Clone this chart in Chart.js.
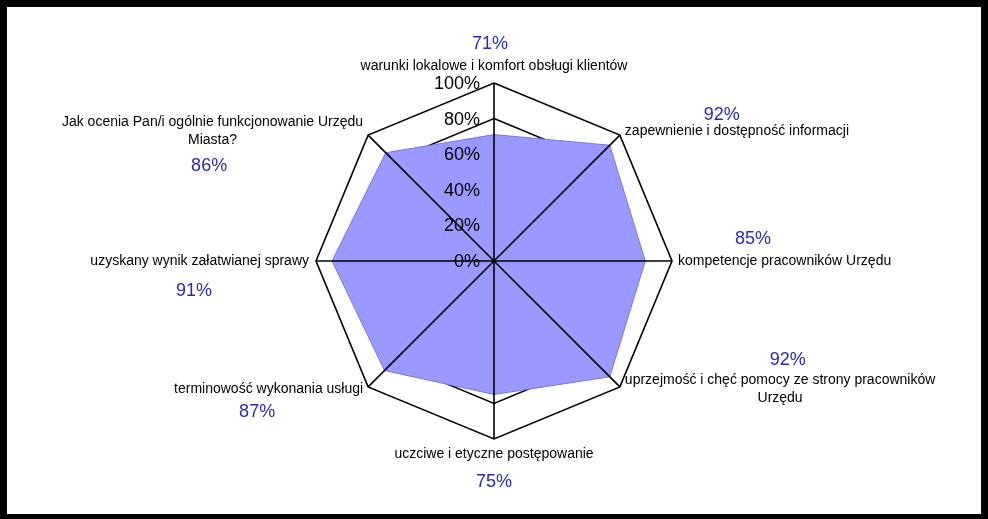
<!DOCTYPE html>
<html>
<head>
<meta charset="utf-8">
<script src="https://cdn.jsdelivr.net/npm/chart.js@4/dist/chart.umd.min.js"></script>
<style>
  html, body { margin: 0; padding: 0; background: #000; }
  #wrap { position: absolute; left: 0; top: 0; width: 988px; height: 519px; }
</style>
</head>
<body>
<div id="wrap"><canvas id="c" width="988" height="519"></canvas></div>
<script>
// ---- data ----
const categories = [
  "warunki lokalowe i komfort obsługi klientów",
  "zapewnienie i dostępność informacji",
  "kompetencje pracowników Urzędu",
  ["uprzejmość i chęć pomocy ze strony pracowników", "Urzędu"],
  "uczciwe i etyczne postępowanie",
  "terminowość wykonania usługi",
  "uzyskany wynik załatwianej sprawy",
  ["Jak ocenia Pan/i ogólnie funkcjonowanie Urzędu", "Miasta?"]
];
const values = [71, 92, 85, 92, 75, 87, 91, 86];
const tickValues = [0, 20, 40, 60, 80, 100];
const tickLabels = ["0%", "20%", "40%", "60%", "80%", "100%"];

// ---- layout (offsets from each axis end point) ----
const labelPlace = [
  { dx: 0,  dy: -17, align: "center" },
  { dx: 5,  dy: -4,  align: "left" },
  { dx: 6,  dy: 0,   align: "left" },
  { dx: 5,  dy: -7,  align: "left" },
  { dx: 0,  dy: 15,  align: "center" },
  { dx: -5, dy: 2,   align: "right" },
  { dx: -7, dy: 0,   align: "right" },
  { dx: -5, dy: -13, align: "right" }
];
const valuePlace = [
  { dx: -4,   dy: -39 },
  { dx: 102,  dy: -20 },
  { dx: 81,   dy: -22 },
  { dx: 168,  dy: -27 },
  { dx: 0,    dy: 43 },
  { dx: -111, dy: 25 },
  { dx: -122, dy: 30 },
  { dx: -159, dy: 31 }
];

const FONT = "'Liberation Sans', Arial, sans-serif";

const framePlugin = {
  id: "frame",
  beforeDraw(chart) {
    const ctx = chart.ctx;
    ctx.save();
    ctx.fillStyle = "#000";
    ctx.fillRect(0, 0, chart.width, chart.height);
    ctx.fillStyle = "#fff";
    ctx.fillRect(7, 7, 974, 507);
    ctx.restore();
  }
};

const overlayPlugin = {
  id: "overlay",
  afterDatasetsDraw(chart) {
    const ctx = chart.ctx;
    const s = chart.scales.r;
    const n = chart.data.labels.length;
    ctx.save();
    // spokes on top of the fill
    ctx.strokeStyle = "#000";
    ctx.lineWidth = 1.6;
    for (let i = 0; i < n; i++) {
      const p = s.getPointPosition(i, s.drawingArea);
      ctx.beginPath();
      ctx.moveTo(s.xCenter, s.yCenter);
      ctx.lineTo(p.x, p.y);
      ctx.stroke();
    }
    // tick labels
    ctx.fillStyle = "#000";
    ctx.font = "18px " + FONT;
    ctx.textAlign = "right";
    ctx.textBaseline = "middle";
    s.ticks.forEach(t => {
      const d = s.getDistanceFromCenterForValue(t.value);
      ctx.fillText(t.label, s.xCenter - 14, s.yCenter - d + 1);
    });
    // category labels
    ctx.font = "14px " + FONT;
    ctx.textBaseline = "middle";
    chart.data.labels.forEach((lab, i) => {
      const p = s.getPointPosition(i, s.drawingArea);
      const lines = Array.isArray(lab) ? lab : [lab];
      const w = Math.max(...lines.map(l => ctx.measureText(l).width));
      const pl = labelPlace[i];
      const ax = p.x + pl.dx;
      let cx;
      if (pl.align === "left") cx = ax + w / 2;
      else if (pl.align === "right") cx = ax - w / 2;
      else cx = ax;
      ctx.textAlign = "center";
      lines.forEach((l, k) => ctx.fillText(l, cx, p.y + pl.dy + k * 18));
    });
    // value labels
    ctx.font = "18px " + FONT;
    ctx.fillStyle = "#2a2ab4";
    ctx.textAlign = "center";
    chart.data.datasets[0].data.forEach((v, i) => {
      const p = s.getPointPosition(i, s.drawingArea);
      const vp = valuePlace[i];
      ctx.fillText(v + "%", p.x + vp.dx, p.y + vp.dy);
    });
    ctx.restore();
  }
};

new Chart(document.getElementById("c"), {
  type: "radar",
  data: {
    labels: categories,
    datasets: [{
      data: values,
      fill: true,
      backgroundColor: "#9999ff",
      borderColor: "#7777dd",
      borderWidth: 1,
      pointRadius: 0,
      pointHoverRadius: 0
    }]
  },
  options: {
    responsive: false,
    animation: false,
    layout: { padding: { top: 83, bottom: 80, left: 0, right: 0 } },
    plugins: { legend: { display: false }, tooltip: { enabled: false } },
    scales: {
      r: {
        min: 0,
        max: 100,
        ticks: {
          display: false,
          stepSize: 20,
          callback: (v) => tickLabels[tickValues.indexOf(v)]
        },
        grid: { color: "#000", lineWidth: 1.6, circular: false },
        angleLines: { display: false },
        pointLabels: { display: false }
      }
    }
  },
  plugins: [framePlugin, overlayPlugin]
});
</script>
</body>
</html>
